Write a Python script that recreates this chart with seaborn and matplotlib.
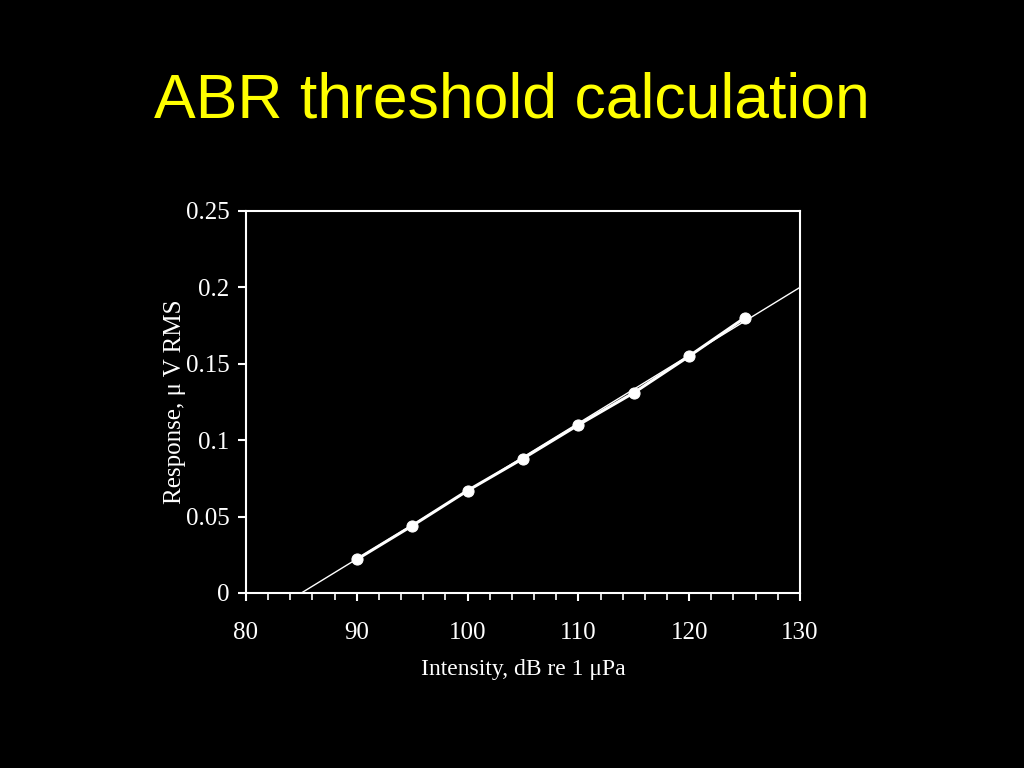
import matplotlib
matplotlib.use("Agg")
import matplotlib.pyplot as plt
from matplotlib.ticker import MultipleLocator
import seaborn as sns
import pandas as pd

# data
intensity = [90, 95, 100, 105, 110, 115, 120, 125]
response = [0.022, 0.044, 0.067, 0.088, 0.110, 0.131, 0.155, 0.180]

# regression line (threshold at the x intercept)
fit_x = [85, 130]
fit_y = [0.0, 0.2]

x_ticks = [80, 90, 100, 110, 120, 130]
y_ticks = [0, 0.05, 0.1, 0.15, 0.2, 0.25]
y_tick_labels = ["0", "0.05", "0.1", "0.15", "0.2", "0.25"]

df = pd.DataFrame({"intensity": intensity, "response": response})
df_fit = pd.DataFrame({"intensity": fit_x, "response": fit_y})

sns.set_style("dark", {"axes.facecolor": "black", "figure.facecolor": "black"})
plt.rcParams["font.family"] = ["Liberation Serif", "DejaVu Serif"]

fig = plt.figure(figsize=(10.24, 7.68), dpi=100)
fig.patch.set_facecolor("black")
ax = fig.add_axes([0.2402, 0.2279, 0.5410, 0.4974])
ax.set_facecolor("black")

sns.lineplot(data=df_fit, x="intensity", y="response", color="white",
             linewidth=1.0, ax=ax)
sns.lineplot(data=df, x="intensity", y="response", color="white",
             linewidth=2.2, marker="o", markersize=8, markeredgecolor="white",
             markerfacecolor="white", ax=ax)

ax.set_xlim(80, 130)
ax.set_ylim(0, 0.25)
ax.set_xticks(x_ticks)
ax.set_xticklabels([str(t) for t in x_ticks])
ax.xaxis.set_minor_locator(MultipleLocator(2))
ax.set_yticks(y_ticks)
ax.set_yticklabels(y_tick_labels)
ax.grid(False)

for s in ax.spines.values():
    s.set_color("white")
    s.set_linewidth(1.5)
    s.set_visible(True)

ax.tick_params(axis="both", which="both", direction="out", colors="white",
               labelcolor="white", labelsize=18, bottom=True, left=True,
               top=False, right=False)
ax.tick_params(axis="x", which="major", length=6, width=1.5, pad=15)
ax.tick_params(axis="y", which="major", length=6, width=1.5, pad=6)
ax.tick_params(axis="x", which="minor", length=5, width=1.2)
ax.tick_params(axis="y", which="minor", left=False)

ax.set_xlabel("Intensity, dB re 1 \u03bcPa", color="white", fontsize=17, labelpad=11)
ax.set_ylabel("Response, \u03bc V RMS", color="white", fontsize=18, labelpad=0)

fig.text(0.5, 0.868, "ABR threshold calculation", color="#ffff00",
         fontsize=45, ha="center", va="center", family="Liberation Sans")

fig.savefig("out.png", dpi=100, facecolor="black")
